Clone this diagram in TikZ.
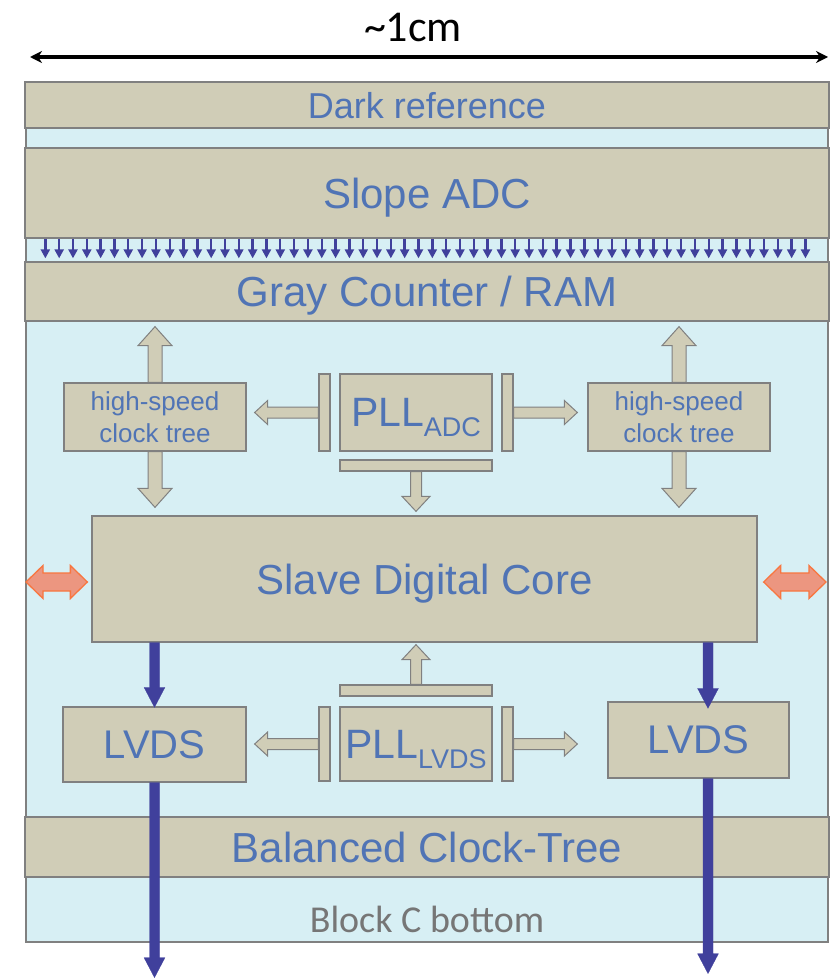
\documentclass[tikz,border=0pt]{standalone}
\usepackage{fontspec}
\setmainfont{Liberation Sans}
\newfontfamily\calfont{Carlito}
\usetikzlibrary{calc,arrows.meta}

\definecolor{chiptan}{RGB}{208,205,183}
\definecolor{chipblue}{RGB}{215,239,244}
\definecolor{edgegray}{RGB}{128,128,128}
\definecolor{labelblue}{RGB}{80,116,181}
\definecolor{busblue}{RGB}{64,64,156}
\definecolor{linkfill}{RGB}{236,150,128}
\definecolor{linkedge}{RGB}{248,118,64}
\definecolor{notegray}{RGB}{118,118,118}

% fat arrow: style, from, tip, half shaft, half head, head length
\newcommand{\fatarrow}[6]{%
  \coordinate (fa) at ($(#3)!#6!(#2)$);
  \filldraw[#1] ($(#2)!#4!90:(#3)$) -- ($(fa)!#4!90:(#3)$) -- ($(fa)!#5!90:(#3)$) -- (#3)
    -- ($(fa)!#5!-90:(#3)$) -- ($(fa)!#4!-90:(#3)$) -- ($(#2)!#4!-90:(#3)$) -- cycle;
}
% same with a head at both ends
\newcommand{\twinarrow}[6]{%
  \coordinate (ta) at ($(#2)!#6!(#3)$);
  \coordinate (tb) at ($(#3)!#6!(#2)$);
  \filldraw[#1] (#2) -- ($(ta)!#5!90:(#3)$) -- ($(ta)!#4!90:(#3)$) -- ($(tb)!#4!90:(#3)$)
    -- ($(tb)!#5!90:(#3)$) -- (#3) -- ($(tb)!#5!-90:(#3)$) -- ($(tb)!#4!-90:(#3)$)
    -- ($(ta)!#4!-90:(#3)$) -- ($(ta)!#5!-90:(#3)$) -- cycle;
}
\newcommand{\pllsub}[1]{\raisebox{-10pt}{\fontsize{27}{27}\selectfont #1}}

\begin{document}
\begin{tikzpicture}[x=1pt,y=-1pt,
  bar/.style={draw=edgegray,fill=chiptan,line width=1.3pt,inner sep=0pt,minimum width=804,
    text=labelblue,text depth=0pt,font=\fontsize{42}{42}\selectfont},
  box/.style={draw=edgegray,fill=chiptan,line width=1.3pt,inner sep=0pt,text=labelblue,text depth=0pt},
  slab/.style={draw=edgegray,fill=chiptan,line width=1.3pt,inner sep=0pt},
  tanarr/.style={draw=edgegray,fill=chiptan,line width=1pt},
  bus/.style={fill=busblue,draw=busblue,line width=0.2pt},
  col/.style={busblue,line width=2.4pt,-{Triangle[width=9pt,length=9pt]},shorten >=3pt},
  link/.style={fill=linkfill,draw=linkedge,line width=1.3pt}]
\useasboundingbox (0,0) rectangle (833,979);

\node[font=\calfont\fontsize{44}{44}\selectfont] (size) at (413,27) {\textasciitilde1cm};
\coordinate (wl) at (30,57);
\coordinate (wr) at (828,57);
\draw[line width=3.5pt,{Stealth[length=12pt,width=12pt]}-{Stealth[length=12pt,width=12pt]}] (wl) -- (wr);

\filldraw[fill=chipblue,draw=edgegray,line width=1.3pt] (26,82) rectangle (828,942);

\node[bar,minimum height=46,font=\fontsize{36}{36}\selectfont] (dark) at (427,105) {Dark reference};
\node[bar,minimum height=90] (adc) at (427,193) {Slope ADC};
\node[bar,minimum height=59] (cnt) at (427,291.5) {Gray Counter / RAM};
\node[bar,minimum height=60] (tree) at (427,847) {Balanced Clock-Tree};
\node[font=\calfont\fontsize{38}{38}\selectfont,text=notegray] (bottom) at (427,919) {Block C bottom};

\foreach \i [evaluate=\i as \xc using 21+13.82*\i] in {0,...,55}
  \draw[col] ($(adc.south west)+(\xc,0)$) -- ($(cnt.north west)+(\xc,0)$);

\node[box,minimum width=182,minimum height=68,align=center,font=\fontsize{26}{32}\selectfont] (hsl) at (155,417) {high-speed\\clock tree};
\node[box,minimum width=182,minimum height=68,align=center,font=\fontsize{26}{32}\selectfont] (hsr) at (679,417) {high-speed\\clock tree};

\node[box,minimum width=152,minimum height=77,font=\fontsize{41}{41}\selectfont] (plla) at (416,412.5) {PLL\pllsub{ADC}};
\node[slab,minimum width=11,minimum height=77] (pal) at (324.5,412.5) {};
\node[slab,minimum width=11,minimum height=77] (par) at (507.5,412.5) {};
\node[slab,minimum width=152,minimum height=11] (pab) at (416,465.5) {};

\node[box,minimum width=665,minimum height=126,font=\fontsize{42}{42}\selectfont] (core) at (424.5,579) {Slave Digital Core};

\node[box,minimum width=183,minimum height=75,font=\fontsize{40}{40}\selectfont] (lvl) at (154.5,744.5) {LVDS};
\node[box,minimum width=181,minimum height=76,font=\fontsize{40}{40}\selectfont] (lvr) at (698.5,740) {LVDS};
\node[box,minimum width=152,minimum height=74,font=\fontsize{41}{41}\selectfont] (pllv) at (416,744) {PLL\pllsub{LVDS}};
\node[slab,minimum width=11,minimum height=74] (pvl) at (324.5,744) {};
\node[slab,minimum width=11,minimum height=74] (pvr) at (507.5,744) {};
\node[slab,minimum width=152,minimum height=11] (pvt) at (416,690.5) {};

\coordinate (hsl up) at ($(cnt.south -| hsl)+(0,5)$);
\coordinate (hsl down) at ($(core.north -| hsl)+(0,-8)$);
\coordinate (hsr up) at ($(cnt.south -| hsr)+(0,5)$);
\coordinate (hsr down) at ($(core.north -| hsr)+(0,-8)$);
\fatarrow{tanarr}{hsl.north}{hsl up}{7pt}{17pt}{19pt}
\fatarrow{tanarr}{hsl.south}{hsl down}{7pt}{17pt}{19pt}
\fatarrow{tanarr}{hsr.north}{hsr up}{7pt}{17pt}{19pt}
\fatarrow{tanarr}{hsr.south}{hsr down}{7pt}{17pt}{19pt}

\coordinate (pa l) at ($(pal.west -| hsl.east)+(8,0)$);
\coordinate (pa r) at ($(par.east -| hsr.west)+(-10,0)$);
\coordinate (pa d) at ($(pab.south |- core.north)+(0,-4)$);
\fatarrow{tanarr}{pal.west}{pa l}{5.5pt}{12pt}{13pt}
\fatarrow{tanarr}{par.east}{pa r}{5.5pt}{12pt}{13pt}
\fatarrow{tanarr}{pab.south}{pa d}{5.5pt}{14pt}{15pt}

\coordinate (pv l) at ($(pvl.west -| lvl.east)+(8,0)$);
\coordinate (pv r) at ($(pvr.east -| lvr.west)+(-30,0)$);
\coordinate (pv u) at ($(pvt.north |- core.south)+(0,2)$);
\fatarrow{tanarr}{pvl.west}{pv l}{5.5pt}{12pt}{13pt}
\fatarrow{tanarr}{pvr.east}{pv r}{5.5pt}{12pt}{13pt}
\fatarrow{tanarr}{pvt.north}{pv u}{5.5pt}{14pt}{15pt}

\coordinate (bl top) at (core.south -| lvl.north);
\coordinate (bl tip) at ($(lvl.north)+(0,1)$);
\coordinate (bl out) at ($(lvl.south)+(0,195)$);
\coordinate (br top) at ($(core.south -| lvr.north)+(9.5,0)$);
\coordinate (br tip) at ($(lvr.north)+(9.5,7)$);
\coordinate (br bot) at ($(lvr.south)+(9.5,0)$);
\coordinate (br out) at ($(lvr.south)+(9.5,195)$);
\fatarrow{bus}{bl top}{bl tip}{5pt}{10.5pt}{20pt}
\fatarrow{bus}{lvl.south}{bl out}{5pt}{10.5pt}{20pt}
\fatarrow{bus}{br top}{br tip}{5pt}{10.5pt}{20pt}
\fatarrow{bus}{br bot}{br out}{5pt}{10.5pt}{20pt}

\coordinate (ll) at (26,582);
\coordinate (lr) at ($(core.west)+(-4,3)$);
\coordinate (rl) at ($(core.east)+(6,3)$);
\coordinate (rr) at (826,582);
\twinarrow{link}{ll}{lr}{9pt}{16.5pt}{17pt}
\twinarrow{link}{rl}{rr}{9pt}{16.5pt}{17pt}

\end{tikzpicture}
\end{document}
